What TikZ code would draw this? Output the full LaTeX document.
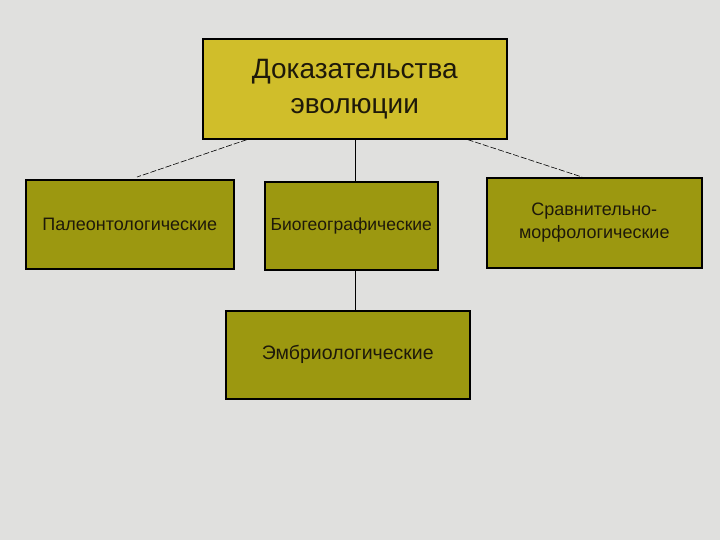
\documentclass[tikz,border=0pt]{standalone}
\usepackage{fontspec}
\setmainfont{Liberation Sans}
\definecolor{bggrey}{RGB}{224,224,222}
\definecolor{topfill}{RGB}{208,190,42}
\definecolor{olivefill}{RGB}{156,152,16}
\definecolor{txt}{RGB}{30,25,10}
\begin{document}
\begin{tikzpicture}[x=1pt,y=-1pt,
  box/.style={draw=black,line width=1.6pt,fill=olivefill,text=txt,align=center,inner sep=0pt,anchor=north west},
  link/.style={draw=black,line width=0.6pt},
  dlink/.style={draw=black,line width=0.6pt,dash pattern=on 6pt off 2pt}]
\fill[bggrey] (0,0) rectangle (720,540);
\useasboundingbox (0,0) rectangle (720,540);
\node[box,fill=topfill,minimum width=304pt,minimum height=100pt,font=\fontsize{28}{35}\selectfont] (top) at (202,38) {Доказательства\\эволюции};
\node[box,minimum width=208pt,minimum height=89pt,font=\fontsize{18}{21}\selectfont] (pal) at (25,179) {Палеонтологические};
\node[box,minimum width=173pt,minimum height=88pt,font=\fontsize{17.5}{21}\selectfont] (bio) at (264,181) {Биогеографические};
\node[box,minimum width=215pt,minimum height=90pt,font=\fontsize{18}{23}\selectfont] (sra) at (486,177) {Сравнительно-\\морфологические};
\node[box,minimum width=244pt,minimum height=88pt,font=\fontsize{19.5}{23}\selectfont] (emb) at (225,310) {Эмбриологические};
\coordinate (pl) at (137,177);
\coordinate (pr) at (582,177);
\draw[dlink] (top.south west) ++(45,0) -- (pl);
\draw[dlink] (top.south east) ++(-40,0) -- (pr);
\draw[link] (top.south) -- (top.south |- bio.north);
\draw[link] (top.south |- bio.south) -- (top.south |- emb.north);
\end{tikzpicture}
\end{document}
